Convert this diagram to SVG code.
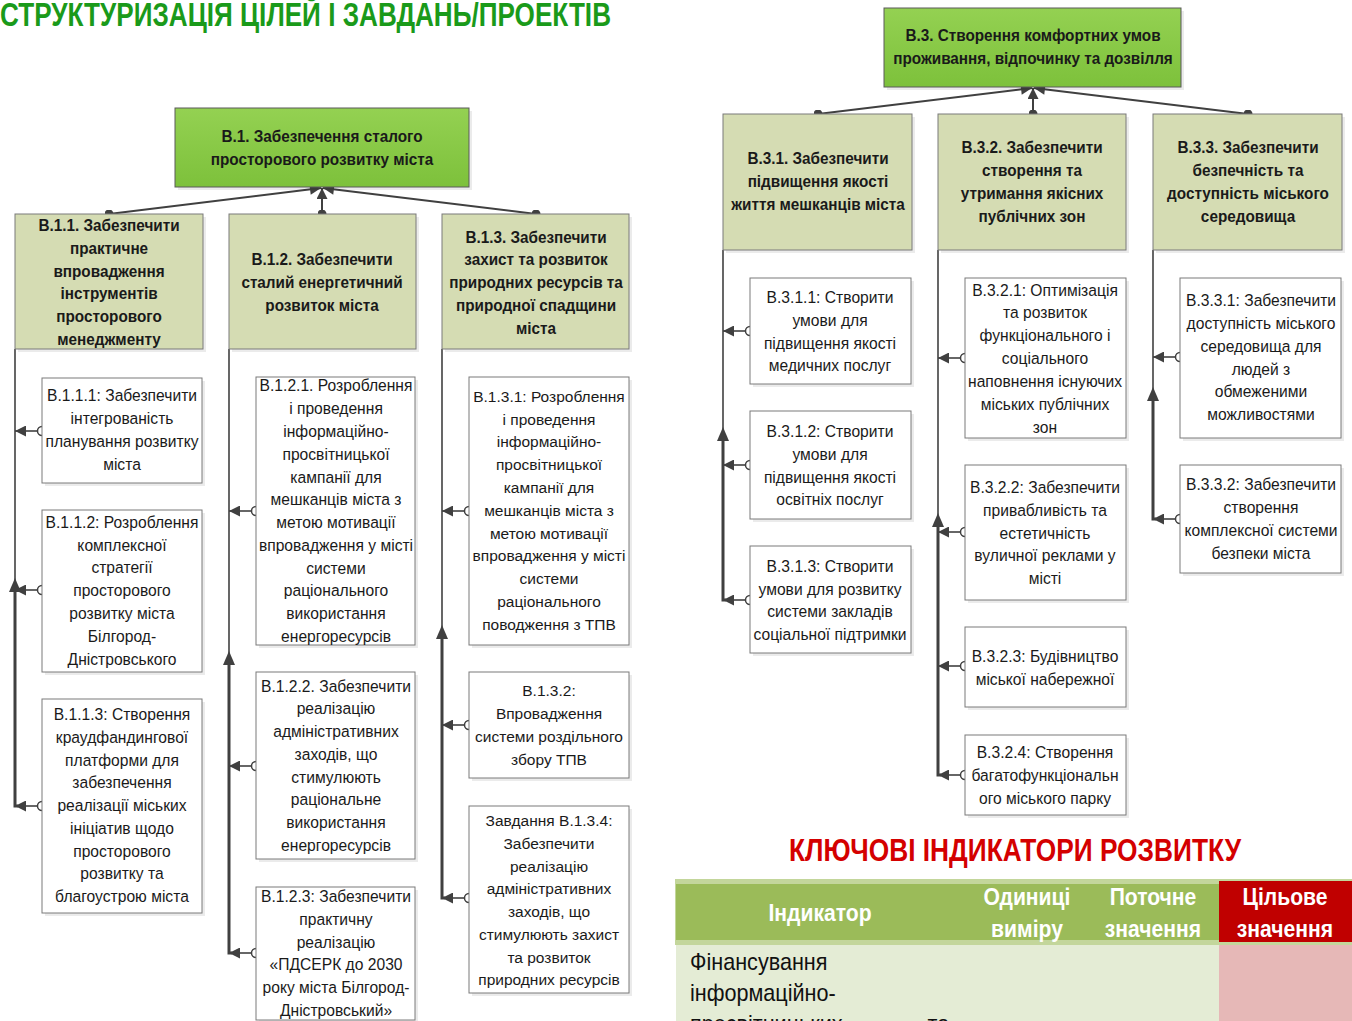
<svg xmlns="http://www.w3.org/2000/svg" width="1352" height="1021" viewBox="0 0 1352 1021">
<style>
.n{font-family:"Liberation Sans",Arial,sans-serif;font-size:17px;fill:#1a1a1a;text-anchor:middle}
.w{font-family:"Liberation Sans",Arial,sans-serif;font-size:15.5px;fill:#1a1a1a;text-anchor:middle}
.b{font-family:"Liberation Sans",Arial,sans-serif;font-size:17px;font-weight:bold;fill:#1a1a1a;text-anchor:middle}
.top{stroke:#5a5a5a;stroke-width:1;fill:url(#gg)}
.mid{stroke:#7a7a7a;stroke-width:1;fill:#d5dcb3}
.sub{stroke:#7a7a7a;stroke-width:1;fill:#ffffff}
.sh{fill:#000;opacity:0.08}
.ln{stroke:#404040;stroke-width:1.6;fill:none}
.tk{stroke:#404040;stroke-width:3;fill:none}
.hr{stroke:#404040;stroke-width:1.6;fill:none;marker-end:url(#ah)}
.cn{stroke:#404040;stroke-width:2;fill:none;marker-start:url(#dot);marker-end:url(#ah)}
.ci{fill:#fff;stroke:#404040;stroke-width:1.5}
.up{fill:#404040}
.hd{font-family:"Liberation Sans",Arial,sans-serif;font-weight:bold;font-size:24px;fill:#fff;text-anchor:middle}
</style>
<defs>
<linearGradient id="gg" x1="0" y1="0" x2="0" y2="1"><stop offset="0" stop-color="#94d152"/><stop offset="1" stop-color="#7dc13b"/></linearGradient>
<marker id="ah" viewBox="0 0 12 12" refX="12" refY="6" markerWidth="12" markerHeight="11" markerUnits="userSpaceOnUse" orient="auto"><path d="M0,0 L12,6 L0,12 z" fill="#404040"/></marker>
<marker id="dot" viewBox="0 0 10 10" refX="5" refY="5" markerWidth="9" markerHeight="9" markerUnits="userSpaceOnUse"><circle cx="5" cy="5" r="5" fill="#404040"/></marker>
</defs>
<rect width="1352" height="1021" fill="#fff"/>
<text x="0" y="26" font-family="Liberation Sans,Arial,sans-serif" font-weight="bold" font-size="33" fill="#1a9a1a" textLength="611" lengthAdjust="spacingAndGlyphs">СТРУКТУРИЗАЦІЯ ЦІЛЕЙ І ЗАВДАНЬ/ПРОЕКТІВ</text>

<g id="connectors">
<path class="cn" d="M109,214 L321,188"/>
<path class="cn" d="M322,214 L322,188"/>
<path class="cn" d="M536,214 L323,188"/>
<path class="cn" d="M818,114 L1032,88"/>
<path class="cn" d="M1033,114 L1033,88"/>
<path class="cn" d="M1248,114 L1034,88"/>
<path class="ln" d="M15,349 V806"/><path class="tk" d="M15,585 V806 H18"/><path class="up" d="M15,578 L9,592 L21,592 z"/>
<path class="hr" d="M38,431 H15"/><path class="hr" d="M38,590 H15"/><path class="hr" d="M38,806 H15"/>
<circle class="ci" cx="42" cy="431" r="4.5"/><circle class="ci" cx="42" cy="590" r="4.5"/><circle class="ci" cx="42" cy="806" r="4.5"/>
<path class="ln" d="M229,349 V953"/><path class="tk" d="M229,658 V953 H232"/><path class="up" d="M229,651 L223,665 L235,665 z"/>
<path class="hr" d="M252,511 H229"/><path class="hr" d="M252,766 H229"/><path class="hr" d="M252,953 H229"/>
<circle class="ci" cx="256" cy="511" r="4.5"/><circle class="ci" cx="256" cy="766" r="4.5"/><circle class="ci" cx="256" cy="953" r="4.5"/>
<path class="ln" d="M442,349 V898"/><path class="tk" d="M442,632 V898 H445"/><path class="up" d="M442,625 L436,639 L448,639 z"/>
<path class="hr" d="M465,511 H442"/><path class="hr" d="M465,725 H442"/><path class="hr" d="M465,898 H442"/>
<circle class="ci" cx="469" cy="511" r="4.5"/><circle class="ci" cx="469" cy="725" r="4.5"/><circle class="ci" cx="469" cy="898" r="4.5"/>
<path class="ln" d="M723,250 V600"/><path class="tk" d="M723,434 V600 H726"/><path class="up" d="M723,427 L717,441 L729,441 z"/>
<path class="hr" d="M746,331 H723"/><path class="hr" d="M746,465 H723"/><path class="hr" d="M746,600 H723"/>
<circle class="ci" cx="750" cy="331" r="4.5"/><circle class="ci" cx="750" cy="465" r="4.5"/><circle class="ci" cx="750" cy="600" r="4.5"/>
<path class="ln" d="M938,250 V775"/><path class="tk" d="M938,520 V775 H941"/><path class="up" d="M938,513 L932,527 L944,527 z"/>
<path class="hr" d="M961,358 H938"/><path class="hr" d="M961,532 H938"/><path class="hr" d="M961,666 H938"/><path class="hr" d="M961,775 H938"/>
<circle class="ci" cx="965" cy="358" r="4.5"/><circle class="ci" cx="965" cy="532" r="4.5"/><circle class="ci" cx="965" cy="666" r="4.5"/><circle class="ci" cx="965" cy="775" r="4.5"/>
<path class="ln" d="M1153,250 V519"/><path class="tk" d="M1153,394 V519 H1156"/><path class="up" d="M1153,387 L1147,401 L1159,401 z"/>
<path class="hr" d="M1176,357 H1153"/><path class="hr" d="M1176,519 H1153"/>
<circle class="ci" cx="1180" cy="357" r="4.5"/><circle class="ci" cx="1180" cy="519" r="4.5"/>
</g>

<g id="B1"><rect class="sh" x="178" y="111" width="294" height="79"/><rect class="top" x="175" y="108" width="294" height="79"/>
<text class="b" transform="translate(322 0) scale(0.9 1)"><tspan x="0" y="142">В.1. Забезпечення сталого</tspan><tspan x="0" y="165">просторового розвитку міста</tspan></text></g>

<g id="B11"><rect class="sh" x="18" y="217" width="188" height="135"/><rect class="mid" x="15" y="214" width="188" height="135"/>
<text class="b" transform="translate(109 0) scale(0.9 1)"><tspan x="0" y="231">В.1.1. Забезпечити</tspan><tspan x="0" y="254">практичне</tspan><tspan x="0" y="277">впровадження</tspan><tspan x="0" y="299">інструментів</tspan><tspan x="0" y="322">просторового</tspan><tspan x="0" y="345">менеджменту</tspan></text></g>
<g id="B12"><rect class="sh" x="232" y="217" width="187" height="135"/><rect class="mid" x="229" y="214" width="187" height="135"/>
<text class="b" transform="translate(322 0) scale(0.9 1)"><tspan x="0" y="265">В.1.2. Забезпечити</tspan><tspan x="0" y="288">сталий енергетичний</tspan><tspan x="0" y="311">розвиток міста</tspan></text></g>
<g id="B13"><rect class="sh" x="445" y="217" width="187" height="135"/><rect class="mid" x="442" y="214" width="187" height="135"/>
<text class="b" transform="translate(536 0) scale(0.9 1)"><tspan x="0" y="243">В.1.3. Забезпечити</tspan><tspan x="0" y="265">захист та розвиток</tspan><tspan x="0" y="288">природних ресурсів та</tspan><tspan x="0" y="311">природної спадщини</tspan><tspan x="0" y="334">міста</tspan></text></g>

<g id="B111"><rect class="sh" x="45" y="381" width="160" height="105"/><rect class="sub" x="42" y="378" width="160" height="105"/>
<text class="n" transform="translate(122 0) scale(0.92 1)"><tspan x="0" y="401">В.1.1.1: Забезпечити</tspan><tspan x="0" y="424">інтегрованість</tspan><tspan x="0" y="447">планування розвитку</tspan><tspan x="0" y="470">міста</tspan></text></g>
<g id="B112"><rect class="sh" x="45" y="513" width="160" height="162"/><rect class="sub" x="42" y="510" width="160" height="162"/>
<text class="n" transform="translate(122 0) scale(0.92 1)"><tspan x="0" y="528">В.1.1.2: Розроблення</tspan><tspan x="0" y="551">комплексної</tspan><tspan x="0" y="573">стратегії</tspan><tspan x="0" y="596">просторового</tspan><tspan x="0" y="619">розвитку міста</tspan><tspan x="0" y="642">Білгород-</tspan><tspan x="0" y="665">Дністровського</tspan></text></g>
<g id="B113"><rect class="sh" x="45" y="702" width="160" height="214"/><rect class="sub" x="42" y="699" width="160" height="214"/>
<text class="n" transform="translate(122 0) scale(0.92 1)"><tspan x="0" y="720">В.1.1.3: Створення</tspan><tspan x="0" y="743">краудфандингової</tspan><tspan x="0" y="766">платформи для</tspan><tspan x="0" y="788">забезпечення</tspan><tspan x="0" y="811">реалізації міських</tspan><tspan x="0" y="834">ініціатив щодо</tspan><tspan x="0" y="857">просторового</tspan><tspan x="0" y="879">розвитку та</tspan><tspan x="0" y="902">благоустрою міста</tspan></text></g>

<g id="B121"><rect class="sh" x="259" y="380" width="159" height="268"/><rect class="sub" x="256" y="377" width="159" height="268"/>
<text class="n" transform="translate(336 0) scale(0.92 1)"><tspan x="0" y="391">В.1.2.1. Розроблення</tspan><tspan x="0" y="414">і проведення</tspan><tspan x="0" y="437">інформаційно-</tspan><tspan x="0" y="460">просвітницької</tspan><tspan x="0" y="483">кампанії для</tspan><tspan x="0" y="505">мешканців міста з</tspan><tspan x="0" y="528">метою мотивації</tspan><tspan x="0" y="551">впровадження у місті</tspan><tspan x="0" y="574">системи</tspan><tspan x="0" y="596">раціонального</tspan><tspan x="0" y="619">використання</tspan><tspan x="0" y="642">енергоресурсів</tspan></text></g>
<g id="B122"><rect class="sh" x="259" y="675" width="159" height="187"/><rect class="sub" x="256" y="672" width="159" height="187"/>
<text class="n" transform="translate(336 0) scale(0.92 1)"><tspan x="0" y="692">В.1.2.2. Забезпечити</tspan><tspan x="0" y="714">реалізацію</tspan><tspan x="0" y="737">адміністративних</tspan><tspan x="0" y="760">заходів, що</tspan><tspan x="0" y="783">стимулюють</tspan><tspan x="0" y="805">раціональне</tspan><tspan x="0" y="828">використання</tspan><tspan x="0" y="851">енергоресурсів</tspan></text></g>
<g id="B123"><rect class="sh" x="259" y="890" width="159" height="135"/><rect class="sub" x="256" y="887" width="159" height="133"/>
<text class="n" transform="translate(336 0) scale(0.92 1)"><tspan x="0" y="902">В.1.2.3: Забезпечити</tspan><tspan x="0" y="925">практичну</tspan><tspan x="0" y="948">реалізацію</tspan><tspan x="0" y="970">«ПДСЕРК до 2030</tspan><tspan x="0" y="993">року міста Білгород-</tspan><tspan x="0" y="1016">Дністровський»</tspan></text></g>

<g id="B131"><rect class="sh" x="472" y="380" width="160" height="268"/><rect class="sub" x="469" y="377" width="160" height="268"/>
<text class="w"><tspan x="549" y="402">В.1.3.1: Розроблення</tspan><tspan x="549" y="425">і проведення</tspan><tspan x="549" y="447">інформаційно-</tspan><tspan x="549" y="470">просвітницької</tspan><tspan x="549" y="493">кампанії для</tspan><tspan x="549" y="516">мешканців міста з</tspan><tspan x="549" y="539">метою мотивації</tspan><tspan x="549" y="561">впровадження у місті</tspan><tspan x="549" y="584">системи</tspan><tspan x="549" y="607">раціонального</tspan><tspan x="549" y="630">поводження з ТПВ</tspan></text></g>
<g id="B132"><rect class="sh" x="472" y="675" width="160" height="106"/><rect class="sub" x="469" y="672" width="160" height="106"/>
<text class="w"><tspan x="549" y="696">В.1.3.2:</tspan><tspan x="549" y="719">Впровадження</tspan><tspan x="549" y="742">системи роздільного</tspan><tspan x="549" y="765">збору ТПВ</tspan></text></g>
<g id="B134"><rect class="sh" x="472" y="809" width="160" height="187"/><rect class="sub" x="469" y="806" width="160" height="187"/>
<text class="w"><tspan x="549" y="826">Завдання В.1.3.4:</tspan><tspan x="549" y="849">Забезпечити</tspan><tspan x="549" y="872">реалізацію</tspan><tspan x="549" y="894">адміністративних</tspan><tspan x="549" y="917">заходів, що</tspan><tspan x="549" y="940">стимулюють захист</tspan><tspan x="549" y="963">та розвиток</tspan><tspan x="549" y="985">природних ресурсів</tspan></text></g>

<g id="B3"><rect class="sh" x="887" y="11" width="297" height="79"/><rect class="top" x="884" y="8" width="297" height="79"/>
<text class="b" transform="translate(1033 0) scale(0.9 1)"><tspan x="0" y="41">В.3. Створення комфортних умов</tspan><tspan x="0" y="64">проживання, відпочинку та дозвілля</tspan></text></g>
<g id="B31"><rect class="sh" x="726" y="117" width="189" height="136"/><rect class="mid" x="723" y="114" width="189" height="136"/>
<text class="b" transform="translate(818 0) scale(0.9 1)"><tspan x="0" y="164">В.3.1. Забезпечити</tspan><tspan x="0" y="187">підвищення якості</tspan><tspan x="0" y="210">життя мешканців міста</tspan></text></g>
<g id="B32"><rect class="sh" x="941" y="117" width="188" height="136"/><rect class="mid" x="938" y="114" width="188" height="136"/>
<text class="b" transform="translate(1032 0) scale(0.9 1)"><tspan x="0" y="153">В.3.2. Забезпечити</tspan><tspan x="0" y="176">створення та</tspan><tspan x="0" y="199">утримання якісних</tspan><tspan x="0" y="222">публічних зон</tspan></text></g>
<g id="B33"><rect class="sh" x="1156" y="117" width="189" height="136"/><rect class="mid" x="1153" y="114" width="189" height="136"/>
<text class="b" transform="translate(1248 0) scale(0.9 1)"><tspan x="0" y="153">В.3.3. Забезпечити</tspan><tspan x="0" y="176">безпечність та</tspan><tspan x="0" y="199">доступність міського</tspan><tspan x="0" y="222">середовища</tspan></text></g>

<g id="B311"><rect class="sh" x="753" y="281" width="161" height="106"/><rect class="sub" x="750" y="278" width="161" height="106"/>
<text class="n" transform="translate(830 0) scale(0.92 1)"><tspan x="0" y="303">В.3.1.1: Створити</tspan><tspan x="0" y="326">умови для</tspan><tspan x="0" y="349">підвищення якості</tspan><tspan x="0" y="371">медичних послуг</tspan></text></g>
<g id="B312"><rect class="sh" x="753" y="414" width="161" height="108"/><rect class="sub" x="750" y="411" width="161" height="108"/>
<text class="n" transform="translate(830 0) scale(0.92 1)"><tspan x="0" y="437">В.3.1.2: Створити</tspan><tspan x="0" y="460">умови для</tspan><tspan x="0" y="483">підвищення якості</tspan><tspan x="0" y="505">освітніх послуг</tspan></text></g>
<g id="B313"><rect class="sh" x="753" y="549" width="161" height="107"/><rect class="sub" x="750" y="546" width="161" height="107"/>
<text class="n" transform="translate(830 0) scale(0.92 1)"><tspan x="0" y="572">В.3.1.3: Створити</tspan><tspan x="0" y="595">умови для розвитку</tspan><tspan x="0" y="617">системи закладів</tspan><tspan x="0" y="640">соціальної підтримки</tspan></text></g>

<g id="B321"><rect class="sh" x="968" y="281" width="161" height="160"/><rect class="sub" x="965" y="278" width="161" height="160"/>
<text class="n" transform="translate(1045 0) scale(0.92 1)"><tspan x="0" y="296">В.3.2.1: Оптимізація</tspan><tspan x="0" y="318">та розвиток</tspan><tspan x="0" y="341">функціонального і</tspan><tspan x="0" y="364">соціального</tspan><tspan x="0" y="387">наповнення існуючих</tspan><tspan x="0" y="410">міських публічних</tspan><tspan x="0" y="433">зон</tspan></text></g>
<g id="B322"><rect class="sh" x="968" y="468" width="161" height="135"/><rect class="sub" x="965" y="465" width="161" height="135"/>
<text class="n" transform="translate(1045 0) scale(0.92 1)"><tspan x="0" y="493">В.3.2.2: Забезпечити</tspan><tspan x="0" y="516">привабливість та</tspan><tspan x="0" y="539">естетичність</tspan><tspan x="0" y="561">вуличної реклами у</tspan><tspan x="0" y="584">місті</tspan></text></g>
<g id="B323"><rect class="sh" x="968" y="630" width="161" height="80"/><rect class="sub" x="965" y="627" width="161" height="80"/>
<text class="n" transform="translate(1045 0) scale(0.92 1)"><tspan x="0" y="662">В.3.2.3: Будівництво</tspan><tspan x="0" y="685">міської набережної</tspan></text></g>
<g id="B324"><rect class="sh" x="968" y="738" width="161" height="80"/><rect class="sub" x="965" y="735" width="161" height="80"/>
<text class="n" transform="translate(1045 0) scale(0.92 1)"><tspan x="0" y="758">В.3.2.4: Створення</tspan><tspan x="0" y="781">багатофункціональн</tspan><tspan x="0" y="804">ого міського парку</tspan></text></g>

<g id="B331"><rect class="sh" x="1183" y="281" width="161" height="160"/><rect class="sub" x="1180" y="278" width="161" height="160"/>
<text class="n" transform="translate(1261 0) scale(0.92 1)"><tspan x="0" y="306">В.3.3.1: Забезпечити</tspan><tspan x="0" y="329">доступність міського</tspan><tspan x="0" y="352">середовища для</tspan><tspan x="0" y="375">людей з</tspan><tspan x="0" y="397">обмеженими</tspan><tspan x="0" y="420">можливостями</tspan></text></g>
<g id="B332"><rect class="sh" x="1183" y="468" width="161" height="108"/><rect class="sub" x="1180" y="465" width="161" height="108"/>
<text class="n" transform="translate(1261 0) scale(0.92 1)"><tspan x="0" y="490">В.3.3.2: Забезпечити</tspan><tspan x="0" y="513">створення</tspan><tspan x="0" y="536">комплексної системи</tspan><tspan x="0" y="559">безпеки міста</tspan></text></g>

<g id="indicators">
<text x="789" y="861" font-family="Liberation Sans,Arial,sans-serif" font-weight="bold" font-size="32" fill="#d40000" textLength="452" lengthAdjust="spacingAndGlyphs">КЛЮЧОВІ ІНДИКАТОРИ РОЗВИТКУ</text>
<rect x="675" y="879" width="677" height="66" fill="#c3d69b"/>
<rect x="676" y="884" width="543" height="56" fill="#9bbb59"/>
<rect x="1219" y="881" width="133" height="61" fill="#c00000"/>
<rect x="676" y="945" width="543" height="76" fill="#e4ecd5"/>
<rect x="1219" y="945" width="133" height="76" fill="#e6b8b7"/>
<text class="hd" transform="translate(820 0) scale(0.88 1)"><tspan x="0" y="921">Індикатор</tspan></text>
<text class="hd" transform="translate(1027 0) scale(0.88 1)"><tspan x="0" y="905">Одиниці</tspan><tspan x="0" y="937">виміру</tspan></text>
<text class="hd" transform="translate(1153 0) scale(0.88 1)"><tspan x="0" y="905">Поточне</tspan><tspan x="0" y="937">значення</tspan></text>
<text class="hd" transform="translate(1285 0) scale(0.88 1)"><tspan x="0" y="905">Цільове</tspan><tspan x="0" y="937">значення</tspan></text>
<text font-family="Liberation Sans,Arial,sans-serif" font-size="24" fill="#111" transform="translate(690 0) scale(0.9 1)"><tspan x="0" y="970">Фінансування</tspan><tspan x="0" y="1001">інформаційно-</tspan><tspan x="0" y="1032">просвітницьких</tspan><tspan x="264" y="1032">та</tspan></text>
</g>
</svg>
